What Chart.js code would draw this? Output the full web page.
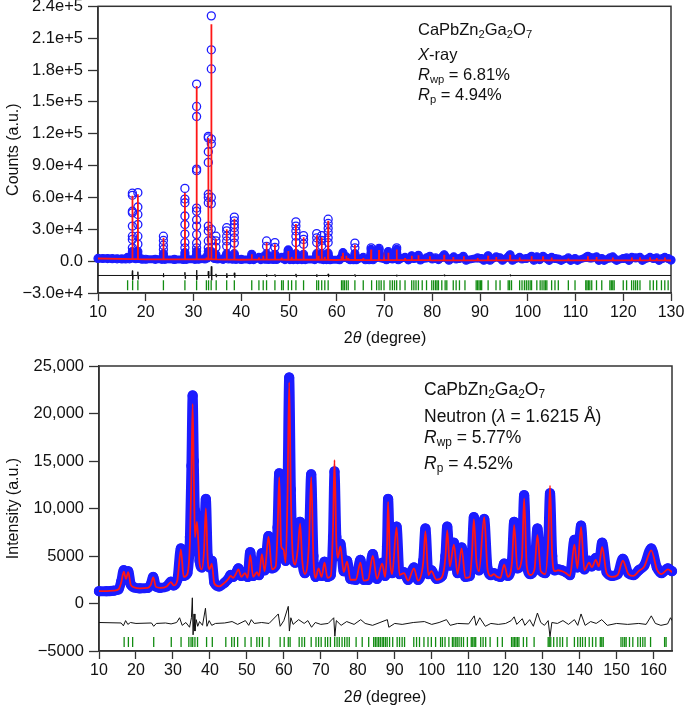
<!DOCTYPE html>
<html>
<head>
<meta charset="utf-8">
<script src="https://cdn.jsdelivr.net/npm/chart.js@4.4.1/dist/chart.umd.min.js"></script>
<style>
  body { margin: 0; background: #fff; }
  #page { position: relative; width: 685px; height: 707px; overflow: hidden;
          font-family: "Liberation Sans", Arial, sans-serif; color: #111; }
  canvas { position: absolute; left: 0; }
  .note { position: absolute; white-space: nowrap; }
  .note.top { left: 418px; font-size: 16.5px; line-height: 16.5px; }
  .note.bot { left: 424px; font-size: 17.5px; line-height: 17.5px; }
  .note sub { font-size: 0.68em; vertical-align: -0.28em; line-height: 0; }
  .xtitle { position: absolute; left: 285px; width: 200px; text-align: center;
            font-size: 16px; line-height: 16px; }
</style>
</head>
<body>
<div id="page">
  <canvas id="xray" width="685" height="350" style="top:0"></canvas>
  <canvas id="neutron" width="685" height="357" style="top:350px"></canvas>

  <div class="note top" style="top:21px">CaPbZn<sub>2</sub>Ga<sub>2</sub>O<sub>7</sub></div>
  <div class="note top" style="top:46px"><i>X</i>-ray</div>
  <div class="note top" style="top:66px"><i>R</i><sub>wp</sub> = 6.81%</div>
  <div class="note top" style="top:86px"><i>R</i><sub>p</sub> = 4.94%</div>
  <div class="xtitle" style="top:330px">2<i>θ</i> (degree)</div>

  <div class="note bot" style="top:381px">CaPbZn<sub>2</sub>Ga<sub>2</sub>O<sub>7</sub></div>
  <div class="note bot" style="top:408px">Neutron (<i>λ</i> = 1.6215 Å)</div>
  <div class="note bot" style="top:429px"><i>R</i><sub>wp</sub> = 5.77%</div>
  <div class="note bot" style="top:455px"><i>R</i><sub>p</sub> = 4.52%</div>
  <div class="xtitle" style="top:689px">2<i>θ</i> (degree)</div>
</div>

<script>
// ══════════════════════════════════════════
// DATA — X-ray panel
// ══════════════════════════════════════════
const xrayXTicks = [10, 20, 30, 40, 50, 60, 70, 80, 90, 100, 110, 120, 130];
const xrayYTicks = [-30000, 0, 30000, 60000, 90000, 120000, 150000, 180000, 210000, 240000];
const xrayYTickLabels = ["−3.0e+4", "0.0", "3.0e+4", "6.0e+4", "9.0e+4", "1.2e+5", "1.5e+5", "1.8e+5", "2.1e+5", "2.4e+5"];

// low-intensity part of the observed scan (background + weak reflections)
const xrayObsLow = [
  [10, 2600], [11, 2500], [12, 2400], [13, 2300], [14, 2200], [15, 2100], [15.8, 2000], [16.2, 3500], [16.6, 2200],
  [16.95, 3000], [17.2, 9000], [17.45, 3000], [17.9, 2300], [18.1, 3000], [18.35, 9000], [18.6, 2500], [19.2, 1900],
  [20, 1800], [22, 1700], [23.4, 1700], [23.7, 7000], [24, 1700], [26, 1600], [27.9, 1600], [28.2, 8000], [28.5, 1700],
  [30.3, 1700], [30.65, 9000], [31, 1800], [32.4, 2000], [32.7, 4000], [32.9, 3000], [33.1, 9000], [33.4, 5000],
  [33.73, 9000], [34.05, 4000], [34.4, 2500], [34.7, 6000], [35, 2000], [36.2, 1700], [36.6, 3500], [36.95, 7000],
  [37.3, 2000], [38.2, 1900], [38.55, 7000], [38.9, 1700], [40, 1600], [41.8, 1500], [42.2, 6500], [42.6, 1500],
  [43.7, 3500], [44.1, 1500], [44.6, 4000], [45, 1800], [45.3, 7000], [45.7, 1600], [46.7, 1600], [47.05, 6500],
  [47.4, 1600], [48.45, 3500], [48.8, 2500], [49.15, 1500], [49.85, 10000], [50.2, 1500], [50.55, 4000], [50.9, 1500],
  [51.15, 2000], [51.45, 7000], [51.8, 1500], [52.7, 1500], [53.05, 6500], [53.4, 1500], [55.4, 1500], [55.8, 7000],
  [56.2, 4000], [56.5, 2000], [56.85, 7000], [57.2, 1500], [57.5, 3500], [57.85, 1500], [58.2, 7500], [58.6, 1400],
  [60.6, 1400], [61, 4000], [61.3, 8000], [61.6, 3500], [62, 4000], [62.4, 2500], [62.8, 1400], [63.5, 1400],
  [63.8, 7000], [64.1, 1400], [65.55, 3500], [66, 1300], [66.8, 1300], [67.2, 11000], [67.6, 1300], [68.35, 3500],
  [68.85, 11000], [69.3, 3000], [69.9, 2500], [70.4, 1300], [70.8, 9000], [71.2, 2500], [71.65, 2000], [72.1, 2500],
  [72.55, 11000], [72.9, 1300], [73.3, 2500], [74.3, 3500], [75, 1200], [75.7, 5000], [76.1, 2500], [76.6, 3000],
  [77.1, 5500], [77.5, 1100], [78.8, 3000], [79.5, 4500], [80, 2000], [80.7, 3000], [81.3, 1500], [82, 3500],
  [82.5, 6000], [83, 3000], [83.5, 900], [84.5, 4000], [85, 2000], [85.7, 2500], [86.5, 4500], [87.1, 900],
  [89.5, 3000], [90.3, 2500], [90.8, 900], [91.7, 5000], [92.1, 900], [93.4, 4000], [94.2, 3000], [94.7, 900],
  [95.9, 4000], [96.3, 6000], [96.8, 900], [98.3, 3500], [98.8, 2000], [99.7, 2500], [100.8, 4500], [101.3, 900],
  [101.9, 4000], [102.5, 1500], [103.2, 4500], [104, 2500], [104.5, 800], [105, 3500], [105.7, 2500], [106.4, 2000],
  [107, 800], [108.5, 3000], [109, 800], [109.9, 2500], [110.4, 800], [112.2, 3500], [112.6, 4500], [113, 3000],
  [113.4, 3000], [114.4, 4000], [114.9, 800], [115.5, 2500], [116, 800], [117.2, 3000], [117.8, 4000], [118.1, 2500],
  [118.6, 800], [120, 2500], [120.7, 3000], [121.2, 800], [121.8, 3500], [122.6, 3000], [123.5, 3500], [124, 800],
  [125.6, 3500], [126.3, 2500], [127, 3000], [127.5, 800], [128.2, 2500], [128.7, 3500], [129.4, 2500], [130, 1000]
];

// observed points on the intense reflections: [2θ, counts of each point]
const xrayObsPeaks = [
  [17.2, [64000, 62000, 47000, 45500, 33000, 23500, 20500, 12500]],
  [18.35, [64500, 51000, 44000, 34500, 23500, 16000]],
  [23.7, [23500, 19500, 15000, 11000]],
  [28.2, [68500, 58500, 55000, 42500, 34500, 25500, 17500, 12500]],
  [30.65, [166800, 145700, 136200, 86700, 85200, 50000, 47000, 39000, 33000, 25000, 17000, 12500]],
  [33.1, [117500, 116000, 103000, 93000, 63000, 60000, 55000, 33000, 28500, 19000, 12500]],
  [33.73, [231000, 199000, 181000, 115000, 110500, 60000, 54000, 30000, 20000]],
  [34.7, [23500, 19000, 13000]],
  [36.95, [31500, 28500, 23500, 19000, 14000]],
  [38.55, [41500, 38000, 34500, 31500, 27000, 22000, 17000]],
  [45.3, [19000, 14000]],
  [47.05, [17500, 13000]],
  [49.85, [10500]],
  [51.45, [37000, 33000, 28500, 23500, 17500]],
  [53.05, [24000, 20500, 16000]],
  [55.8, [26000, 22000, 17500]],
  [56.85, [24000, 19500, 14500]],
  [58.2, [39500, 35500, 31000, 27000, 22000, 17500]],
  [63.8, [17000, 12500]],
  [67.2, [12500]],
  [68.85, [12000]],
  [72.55, [12500]]
];

// calculated profile: background knots, then reflections [2θ, peak, local background]
const xrayCalcBackground = [[10, 2500], [20, 1700], [40, 1300], [60, 1100], [80, 800], [130, 600]];
const xrayCalcPeaks = [
  [17.2, 61500, 1900], [18.35, 63000, 1900], [23.7, 22000, 1700], [28.2, 64500, 1600], [30.65, 165000, 1600],
  [32.7, 3500, 1700], [33.1, 116000, 1800], [33.73, 223000, 1800], [34.7, 21000, 1600], [36.5, 2500, 1500],
  [36.95, 30000, 1500], [38.55, 40000, 1500], [42.2, 6500, 1400], [43.7, 3500, 1400], [44.6, 5000, 1400],
  [45.3, 17500, 1400], [47.05, 16000, 1400], [48.45, 3500, 1400], [49.85, 9500, 1300], [50.55, 4000, 1300],
  [51.45, 35000, 1300], [53.05, 22500, 1300], [55.8, 24500, 1300], [56.2, 5000, 1300], [56.85, 22500, 1300],
  [57.5, 4000, 1300], [58.2, 38000, 1200], [61, 4500, 1200], [61.3, 8000, 1200], [62, 5000, 1200],
  [62.4, 3000, 1200], [63.8, 15500, 1100], [65.55, 3000, 1100], [67.2, 11000, 1000], [68.85, 10500, 1000],
  [69.9, 2500, 1000], [70.8, 8000, 1000], [72.55, 11000, 1000], [74.3, 3000, 900], [75.7, 5000, 900],
  [77.1, 5500, 900], [79.5, 4500, 900], [82.5, 6000, 800], [84.4, 4000, 800], [86.6, 4500, 800],
  [89.5, 3000, 800], [91.7, 5000, 800], [93.4, 4000, 800], [96.3, 6000, 800], [98.3, 3500, 800],
  [100.8, 4500, 800], [103.2, 4500, 700], [105, 3500, 700], [108.5, 2500, 700], [112.6, 4500, 700],
  [114.4, 4000, 700], [117.8, 3500, 700], [121.8, 3500, 700], [123.5, 3500, 700], [125.6, 3500, 700],
  [127, 3000, 700], [128.7, 3500, 700]
];

// difference curve (offset) and its excursions [2θ, high, low]
const xrayDiffBase = -13500;
const xrayDiffSpikes = [
  [17.2, -9000, -17500], [18.35, -10000, -17000], [23.7, -11500, -15000], [28.2, -10500, -16500],
  [30.65, -8500, -17500], [33.1, -9500, -16000], [33.73, -5000, -18000], [34.7, -12000, -15000],
  [36.95, -11500, -15500], [38.55, -11000, -15500], [45.3, -12500, -14500], [47.05, -12500, -14500],
  [51.45, -12000, -15000], [55.8, -12500, -14500], [58.2, -12000, -15000], [63.8, -12500, -14500],
  [72.55, -12800, -14200], [82.5, -12800, -14200], [96.3, -12800, -14200]
];

const xrayBraggY = -22700;
const xrayBragg = [
  16.2, 17.25, 18.35, 23.7, 28.2, 30.65, 32.7, 33.15, 33.7, 34.75, 36.95, 38.55, 42.2, 43.7, 44.6, 45.3, 47.05,
  48.45, 48.8, 49.85, 50.55, 51.45, 53.05, 55.8, 56.2, 56.85, 57.5, 58.2, 61.0, 61.3, 61.6, 62.0, 62.4, 63.8, 65.55,
  67.3, 68.35, 68.85, 69.3, 69.9, 71.15, 71.65, 72.1, 72.55, 73.25, 74.3, 75.7, 76.15, 76.6, 77.1, 77.9, 78.8, 79.9,
  80.3, 80.7, 81.0, 81.3, 82.0, 82.7, 83.05, 84.4, 85.0, 85.7, 86.85, 89.2, 89.5, 89.8, 90.1, 90.35, 91.7, 93.35,
  94.2, 95.9, 96.2, 96.6, 98.3, 98.8, 99.3, 99.7, 100.1, 100.5, 100.8, 101.9, 102.6, 103.0, 103.4, 103.7, 104.0,
  105.0, 105.7, 106.4, 108.5, 109.9, 112.15, 112.4, 112.7, 113.0, 113.4, 114.4, 115.5, 117.2, 117.5, 117.8, 118.1,
  120.0, 120.7, 121.75, 122.2, 122.6, 123.0, 123.5, 125.6, 126.3, 127.0, 128.0, 128.7, 129.4
];

// ══════════════════════════════════════════
// DATA — neutron panel
// ══════════════════════════════════════════
const neutronXTicks = [10, 20, 30, 40, 50, 60, 70, 80, 90, 100, 110, 120, 130, 140, 150, 160];
const neutronYTicks = [-5000, 0, 5000, 10000, 15000, 20000, 25000];
const neutronYTickLabels = ["−5000", "0", "5000", "10,000", "15,000", "20,000", "25,000"];

const neutronX = [
  10, 12, 14, 15.3, 16.0, 16.7, 17.3, 17.9, 18.6, 19.5,
  21, 23.2, 24.0, 24.65, 25.4, 26.5, 28.3, 29.45, 30.2, 31.2,
  32.15, 32.9, 33.9, 34.6, 35.0, 35.33, 35.65, 35.95, 36.5, 37.2,
  37.8, 38.4, 38.9, 39.4, 39.9, 40.5, 41.2, 42.5, 44.0, 45.0,
  45.6, 46.3, 47.0, 47.7, 48.5, 49.5, 50.2, 50.9, 51.7, 52.7,
  53.3, 54.05, 54.8, 55.85, 56.8, 57.8, 58.3, 58.75, 59.3, 59.9,
  60.5, 61.0, 61.45, 61.9, 62.4, 63.1, 63.8, 64.4, 65.0, 65.7,
  66.8, 67.4, 68.0, 68.6, 69.4, 70.2, 71.0, 71.8, 72.7, 73.3,
  73.7, 74.2, 74.6, 75.3, 76.2, 77.1, 78.0, 79.5, 80.7, 81.6,
  82.8, 84.05, 85.2, 86.6, 87.4, 87.9, 88.2, 88.7, 89.3, 90.5,
  91.3, 92.5, 93.6, 95.2, 96.3, 97.7, 98.3, 99.1, 99.9, 101.3,
  102.8, 103.7, 104.2, 104.9, 106.0, 107.0, 108.1, 109.1, 110.3, 110.9,
  111.4, 112.1, 112.8, 114.2, 115.1, 116.0, 116.8, 117.7, 118.6, 119.6,
  120.6, 121.7, 122.3, 123.2, 124.4, 125.0, 125.7, 126.7, 127.8, 128.6,
  129.5, 130.7, 131.5, 132.0, 132.6, 133.3, 134.2, 135.2, 136.3, 137.4,
  138.6, 139.4, 140.4, 141.3, 142.6, 143.3, 144.4, 145.2, 146.1, 147.3,
  148.8, 150.3, 151.7, 153.2, 154.6, 156.0, 157.5, 159.4, 160.9, 162.2,
  163.9, 165.0
];
const neutronObs = [
  1300, 1300, 1350, 1500, 2300, 3500, 2800, 3400, 2000, 1700,
  1600, 1650, 2000, 2800, 1800, 1650, 1800, 2300, 1900, 2500,
  5800, 2900, 3200, 7000, 14500, 21900, 15000, 9800, 9300, 4500,
  3800, 6000, 11000, 5000, 3800, 4500, 2200, 1800, 2200, 2600,
  3000, 2800, 3200, 3700, 2900, 3300, 2800, 5400, 2900, 3400,
  3000, 5300, 3500, 7100, 3700, 4000, 8000, 13700, 6500, 6000,
  4500, 12000, 23800, 12000, 5500, 4300, 6000, 8600, 4500, 3200,
  6500, 13600, 5000, 2800, 3800, 2900, 4400, 2800, 3000, 7000,
  13900, 7000, 5000, 6300, 3400, 4500, 2600, 2500, 4600, 2500,
  2500, 5200, 2600, 4300, 2900, 6000, 11000, 5000, 3200, 8100,
  3100, 3300, 2500, 3800, 2500, 4500, 7900, 3100, 3500, 2600,
  2900, 5000, 8100, 4000, 6400, 3200, 5900, 2800, 2900, 5500,
  9100, 4500, 3500, 8900, 3700, 3000, 3200, 2900, 2800, 4200,
  2900, 4500, 8600, 3700, 5000, 11400, 4200, 3100, 3700, 7900,
  3500, 3200, 6000, 11600, 5000, 3500, 3600, 3500, 3300, 3000,
  6700, 3800, 8200, 3600, 4500, 3900, 4800, 4000, 6400, 3300,
  2900, 3100, 4700, 3200, 3000, 3500, 4000, 5800, 3800, 3200,
  3700, 3400
];
const neutronCalc = [
  1300, 1300, 1350, 1500, 2200, 3350, 2600, 3300, 1950, 1700,
  1600, 1650, 1950, 2750, 1750, 1650, 1800, 2250, 1900, 2450,
  5700, 2800, 3100, 6500, 13500, 21000, 13500, 7000, 8600, 4200,
  3600, 5500, 10000, 4700, 3600, 4200, 2100, 1800, 2200, 2600,
  2900, 2700, 3100, 3600, 2800, 3200, 2700, 5100, 2800, 3300,
  2900, 5200, 3400, 7000, 3600, 3900, 7500, 13300, 6000, 5700,
  4300, 11500, 23300, 11500, 5200, 4100, 5800, 8400, 4400, 3100,
  6300, 13300, 4800, 2700, 3700, 2800, 4300, 2700, 2900, 8000,
  15100, 6500, 4800, 6000, 3300, 4400, 2500, 2500, 4300, 2400,
  2500, 5000, 2600, 4200, 2800, 5800, 10700, 4800, 3100, 8000,
  3000, 3200, 2400, 3700, 2400, 4300, 7600, 3000, 3400, 2500,
  2800, 4800, 7700, 3900, 6200, 3100, 5800, 2700, 2800, 5300,
  8850, 4400, 3400, 9100, 3600, 2900, 3100, 2800, 2700, 4100,
  2800, 4300, 8250, 3600, 4800, 11050, 4000, 3000, 3600, 7200,
  3400, 3100, 6500, 12400, 5000, 3400, 3500, 3400, 3200, 2900,
  6200, 3700, 8050, 3500, 4300, 3800, 4600, 3900, 5950, 3200,
  2800, 3000, 4500, 3100, 2900, 3400, 3900, 5600, 3600, 3100,
  3600, 3300
];

const neutronDiff = [
  [10, -2000], [16, -2050], [16.6, -2350], [17.2, -1800], [17.8, -2200], [18.5, -2000], [20, -2100], [24.2, -2050],
  [24.8, -2400], [25.5, -2100], [28, -2050], [29.5, -2150], [31, -2000], [31.8, -1500], [32.5, -2300], [33.5, -2000],
  [34.5, -2500], [35.0, -1500], [35.25, 600], [35.45, -3300], [35.7, -1100], [35.95, -2900], [36.3, -1700],
  [36.7, -2400], [37.2, -1900], [38.0, -2300], [38.8, -500], [39.2, -2400], [39.8, -1800], [40.5, -2300],
  [41.5, -2100], [44, -2050], [46, -1900], [47.5, -2200], [49.6, -1800], [50.5, -2300], [51.2, -1700], [52, -2100],
  [54, -2000], [56, -2100], [58.5, -1100], [59, -2400], [60, -1800], [61.2, -300], [61.5, -2900], [61.9, -1500],
  [62.5, -2200], [64, -1700], [65.5, -2100], [66.5, -1800], [67.5, -2500], [68.5, -2000], [70, -2200], [72, -2100],
  [73.5, -1500], [73.8, -3450], [74.2, -1800], [75.5, -2300], [77, -1900], [79, -2200], [80.8, -1700], [82, -2100],
  [84, -2300], [86, -2000], [88, -1700], [88.4, -2500], [90, -2100], [92, -2200], [95, -2000], [98, -1900],
  [100, -2200], [102, -2000], [104, -1700], [105, -2300], [107, -2100], [110, -2150], [111.5, -1300], [112, -2300],
  [113, -1500], [114.5, -2400], [116, -2100], [118, -2200], [120, -2100], [121.5, -1800], [122.3, -1400],
  [123, -2200], [124.5, -1600], [125.2, -2300], [126.5, -1700], [127.5, -2400], [128.6, -1000], [129.5, -2000],
  [130.5, -2300], [131.5, -1800], [132.0, -3500], [132.5, -2000], [134, -2100], [135.5, -1800], [137, -2200],
  [138.6, -1700], [139.5, -2300], [140.4, -1100], [141.5, -2300], [143, -1900], [144.5, -2100], [146, -1700],
  [147.5, -2300], [150, -2100], [153, -2200], [156, -2100], [158, -2200], [159.4, -1300], [160.5, -2100],
  [162, -2300], [163.8, -2150], [164.6, -1500], [165, -1800]
];

const neutronBraggY = -4050;
const neutronBragg = [
  16.8, 17.95, 19.1, 24.8, 29.55, 32.2, 34.3, 34.9, 35.35, 35.95, 36.65, 39.1, 40.65, 44.3, 45.9, 46.6, 47.5, 49.5,
  51.15, 52.7, 53.4, 54.2, 56.0, 59.0, 60.1, 61.2, 61.7, 64.15, 64.9, 65.6, 67.4, 68.7, 69.4, 70.1, 71.2, 71.85,
  72.6, 73.75, 74.4, 75.0, 75.75, 76.45, 77.1, 77.7, 79.55, 81.2, 82.95, 84.3, 84.75, 85.2, 85.65, 86.1, 86.6, 87.0,
  87.5, 87.95, 88.6, 89.45, 90.65, 91.3, 92.0, 92.65, 95.15, 95.9, 96.7, 97.9, 99.0, 99.9, 101.05, 102.4, 102.9,
  103.6, 104.65, 105.6, 106.0, 106.5, 106.9, 107.4, 108.0, 108.6, 109.65, 110.7, 111.1, 111.5, 111.9, 113.25,
  113.9, 114.6, 115.8, 117.8, 119.1, 121.6, 122.0, 122.4, 122.8, 123.2, 123.6, 124.8, 125.7, 127.7, 131.5, 131.8,
  132.2, 133.0, 133.9, 134.7, 135.4, 136.6, 138.6, 139.5, 140.2, 140.8, 141.55, 142.6, 143.5, 144.4, 145.6, 146.0,
  146.4, 151.2, 151.7, 152.2, 152.6, 153.5, 154.4, 155.75, 156.45, 157.1, 157.7, 159.2, 163.0, 163.4
];

// ══════════════════════════════════════════
// STYLE
// ══════════════════════════════════════════
const FONT = "'Liberation Sans', Arial, sans-serif";
const BLUE = "#1c1cff";
const RED = "#ff1616";
const GREEN = "#128c12";
const AXIS = "#333";

Chart.defaults.font.family = FONT;
Chart.defaults.color = "#111";

function toPoints(pairs) {
  return pairs.map(([x, y]) => ({ x, y }));
}

// the frame around the plot area, drawn under the data
const framePlugin = {
  id: "frame",
  beforeDatasetsDraw(chart) {
    const { ctx, chartArea: a } = chart;
    ctx.save();
    ctx.strokeStyle = AXIS;
    ctx.lineWidth = 1.5;
    ctx.strokeRect(a.left, a.top, a.right - a.left, a.bottom - a.top);
    ctx.restore();
  },
};

function buildOptions(cfg) {
  return {
    responsive: false,
    animation: false,
    devicePixelRatio: 1,
    events: [],
    layout: { padding: cfg.padding },
    plugins: { legend: { display: false }, tooltip: { enabled: false } },
    scales: {
      x: {
        type: "linear",
        min: cfg.xMin,
        max: cfg.xMax,
        afterBuildTicks: (s) => { s.ticks = cfg.xTicks.map((v) => ({ value: v })); },
        afterFit: (s) => {
          s.height = cfg.xHeight;
          s.paddingLeft = 0; s.paddingRight = 0;
        },
        ticks: { font: { size: 16 }, color: "#111", padding: 2, maxRotation: 0, autoSkip: false },
        grid: { drawOnChartArea: false, drawTicks: true, tickLength: 8, tickWidth: 1.3, tickColor: AXIS },
        border: { display: true, color: AXIS, width: 1.5 },
      },
      y: {
        type: "linear",
        min: cfg.yMin,
        max: cfg.yMax,
        afterBuildTicks: (s) => { s.ticks = cfg.yTicks.map((v) => ({ value: v })); },
        afterFit: (s) => {
          s.width = cfg.yWidth;
          s.paddingTop = 0; s.paddingBottom = 0;
        },
        ticks: {
          font: { size: 16.5 },
          color: "#111",
          padding: 5,
          autoSkip: false,
          callback: (v, i) => cfg.yLabels[i],
        },
        grid: { drawOnChartArea: false, drawTicks: true, tickLength: 10, tickWidth: 1.3, tickColor: AXIS },
        border: { display: true, color: AXIS, width: 1.5 },
        title: { display: true, text: cfg.yTitle, font: { size: 16 }, color: "#111", padding: { top: 4, bottom: 0 } },
      },
    },
  };
}

function braggDataset(positions, y) {
  return {
    data: positions.map((x) => ({ x, y })),
    showLine: false,
    pointStyle: "line",
    pointRotation: 90,
    pointRadius: 5,
    pointBorderWidth: 1.3,
    pointBorderColor: GREEN,
    order: 2,
  };
}

// ══════════════════════════════════════════
// X-RAY CHART
// ══════════════════════════════════════════
function xrayCalcPoints() {
  const pts = toPoints(xrayCalcBackground);
  xrayCalcPeaks.forEach(([pos, top, base]) => {
    pts.push({ x: pos - 0.04, y: base }, { x: pos, y: top }, { x: pos + 0.04, y: base });
  });
  return pts.sort((a, b) => a.x - b.x);
}

function xrayDiffPoints() {
  const pts = [{ x: 10, y: xrayDiffBase }, { x: 130, y: xrayDiffBase }];
  xrayDiffSpikes.forEach(([pos, hi, lo]) => {
    pts.push({ x: pos - 0.08, y: xrayDiffBase }, { x: pos, y: hi }, { x: pos + 0.06, y: lo }, { x: pos + 0.14, y: xrayDiffBase });
  });
  return pts.sort((a, b) => a.x - b.x);
}

new Chart(document.getElementById("xray"), {
  type: "line",
  data: {
    datasets: [
      {
        data: toPoints(xrayObsLow),
        borderColor: BLUE,
        borderWidth: 8,
        borderJoinStyle: "round",
        borderCapStyle: "round",
        pointRadius: 4,
        pointBorderWidth: 1.2,
        pointBorderColor: BLUE,
        pointBackgroundColor: "rgba(0,0,0,0)",
        clip: false,
        order: 4,
      },
      {
        data: xrayObsPeaks.flatMap(([pos, hs]) => hs.map((y) => ({ x: pos, y }))),
        showLine: false,
        pointRadius: 4,
        pointBorderWidth: 1.3,
        pointBorderColor: BLUE,
        pointBackgroundColor: "rgba(0,0,0,0)",
        clip: false,
        order: 3,
      },
      {
        data: xrayCalcPoints(),
        borderColor: RED,
        borderWidth: 1.8,
        pointRadius: 0,
        order: 1,
      },
      {
        data: xrayDiffPoints(),
        borderColor: "#111",
        borderWidth: 1,
        pointRadius: 0,
        order: 2,
      },
      braggDataset(xrayBragg, xrayBraggY),
    ],
  },
  options: buildOptions({
    xMin: 10, xMax: 130, xTicks: xrayXTicks,
    yMin: -30000, yMax: 240000, yTicks: xrayYTicks, yLabels: xrayYTickLabels,
    yTitle: "Counts (a.u.)",
    padding: { top: 6, right: 14, left: 0, bottom: 0 },
    yWidth: 98, xHeight: 57,
  }),
  plugins: [framePlugin],
});

// ══════════════════════════════════════════
// NEUTRON CHART
// ══════════════════════════════════════════
new Chart(document.getElementById("neutron"), {
  type: "line",
  data: {
    datasets: [
      {
        data: neutronX.map((x, i) => ({ x, y: neutronObs[i] })),
        borderColor: BLUE,
        borderWidth: 10,
        borderJoinStyle: "round",
        borderCapStyle: "round",
        cubicInterpolationMode: "monotone",
        pointRadius: 4.5,
        pointBorderWidth: 1.3,
        pointBorderColor: BLUE,
        pointBackgroundColor: "rgba(0,0,0,0)",
        clip: false,
        order: 4,
      },
      {
        data: neutronX.map((x, i) => ({ x, y: neutronCalc[i] })),
        borderColor: RED,
        borderWidth: 1.8,
        cubicInterpolationMode: "monotone",
        pointRadius: 0,
        order: 1,
      },
      {
        data: toPoints(neutronDiff),
        borderColor: "#111",
        borderWidth: 1,
        pointRadius: 0,
        order: 2,
      },
      braggDataset(neutronBragg, neutronBraggY),
    ],
  },
  options: buildOptions({
    xMin: 10, xMax: 165, xTicks: neutronXTicks,
    yMin: -5000, yMax: 25000, yTicks: neutronYTicks, yLabels: neutronYTickLabels,
    yTitle: "Intensity (a.u.)",
    padding: { top: 16, right: 13, left: 0, bottom: 0 },
    yWidth: 99, xHeight: 56,
  }),
  plugins: [framePlugin],
});
</script>
</body>
</html>
